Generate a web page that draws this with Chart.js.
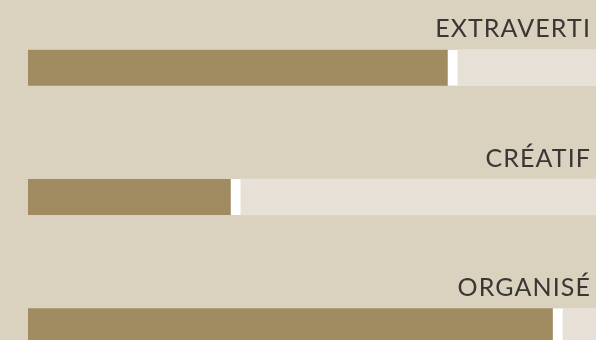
<!DOCTYPE html>
<html>
<head>
<meta charset="utf-8">
<script src="https://cdn.jsdelivr.net/npm/chart.js@4/dist/chart.umd.min.js"></script>
<style>
    html, body { margin: 0; padding: 0; background: #dad2bf; overflow: hidden; }
    .wrap { width: 596px; height: 391px; position: relative; }
</style>
</head>
<body>
<div class="wrap"><canvas id="traits"></canvas></div>
<script>
const traits = ['EXTRAVERTI', 'CRÉATIF', 'ORGANISÉ'];
const scores = [75.6, 37.4, 94.1];
const maxScore = 100;

const rest = scores.map(v => maxScore - v);

// labels sit above each bar, right aligned
const traitLabels = {
    id: 'traitLabels',
    afterDatasetsDraw(chart) {
        const ctx = chart.ctx;
        const meta = chart.getDatasetMeta(0);
        ctx.save();
        ctx.font = '400 25px Lato, "Open Sans", sans-serif';
        ctx.letterSpacing = '1.1px';
        ctx.fillStyle = '#3a3634';
        ctx.textAlign = 'right';
        ctx.textBaseline = 'alphabetic';
        meta.data.forEach((bar, i) => {
            const top = bar.y - bar.height / 2;
            ctx.fillText(chart.data.labels[i], chart.chartArea.right - 5, top - 12.5);
        });
        ctx.restore();
    }
};

new Chart(document.getElementById('traits'), {
    type: 'bar',
    data: {
        labels: traits,
        datasets: [
            {
                label: 'score',
                data: scores,
                backgroundColor: '#a18b60',
                borderColor: '#ffffff',
                borderWidth: { top: 0, right: 10, bottom: 0, left: 0 },
                borderSkipped: false,
                barThickness: 36
            },
            {
                label: 'reste',
                data: rest,
                backgroundColor: '#e7e0d6',
                borderWidth: 0,
                barThickness: 36
            }
        ]
    },
    options: {
        indexAxis: 'y',
        responsive: true,
        maintainAspectRatio: false,
        animation: false,
        layout: { padding: { left: 28, right: 0, top: 3, bottom: 0 } },
        plugins: {
            legend: { display: false },
            tooltip: { enabled: false }
        },
        scales: {
            x: { stacked: true, min: 0, max: maxScore, display: false },
            y: { stacked: true, display: false }
        }
    },
    plugins: [traitLabels]
});
</script>
</body>
</html>
